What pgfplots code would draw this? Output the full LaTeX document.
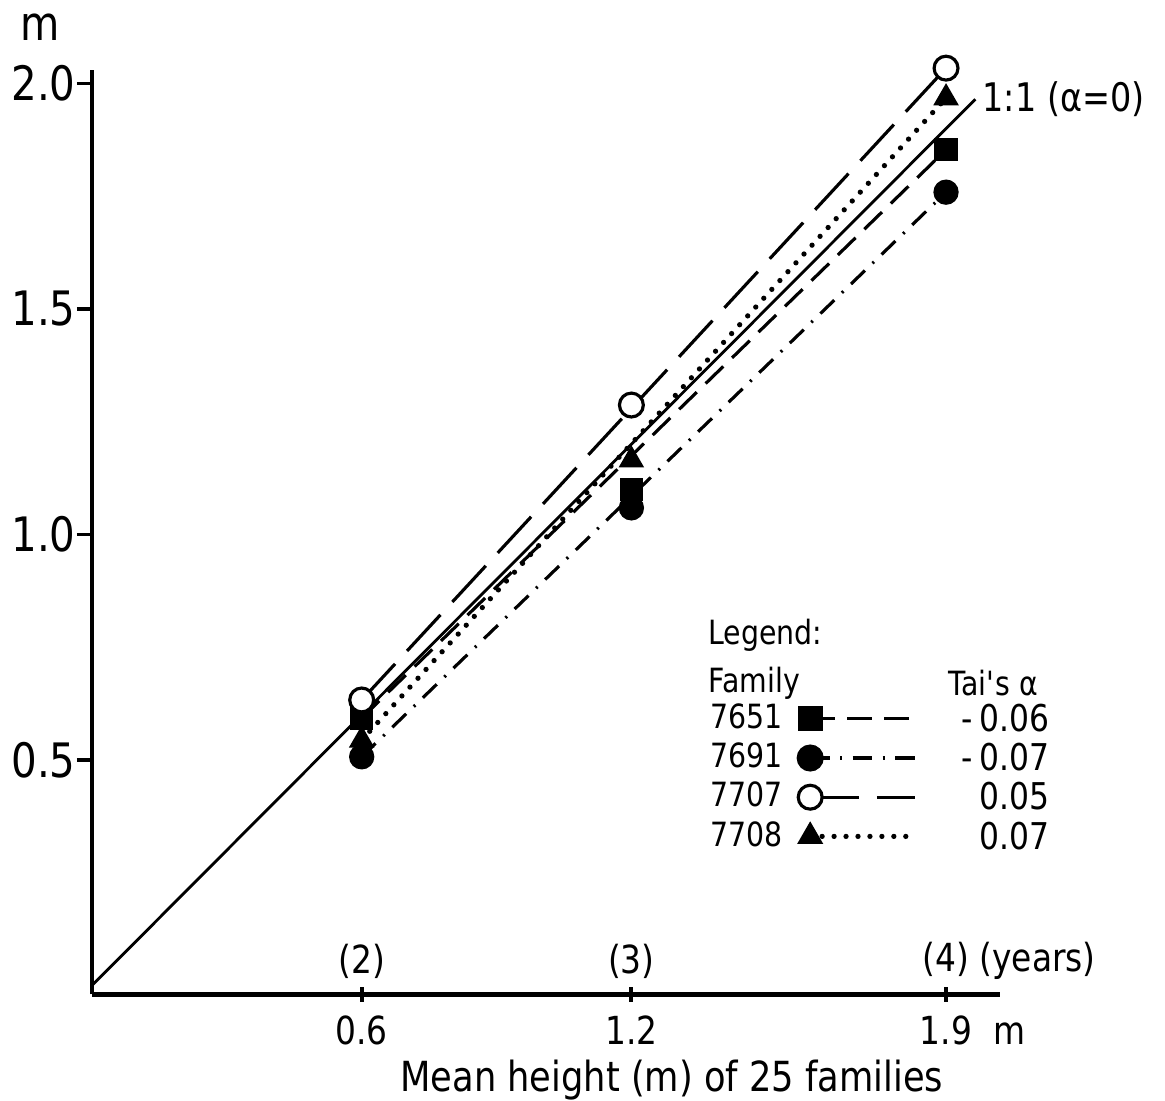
\documentclass[border=0pt]{standalone}
\usepackage{fontspec}
\setmainfont{DejaVu Sans}[FakeStretch=0.85]
\usepackage{pgfplots}
\pgfplotsset{compat=1.18}

\begin{document}
\begin{tikzpicture}
\useasboundingbox (-0.92,-1.155) rectangle (10.73,9.855);
\begin{axis}[
  at={(0,0)}, anchor=origin,
  x=4.495cm, y=4.51cm,
  xmin=0, xmax=2.02, ymin=-0.02, ymax=2.03,
  axis x line=bottom, axis y line=left,
  axis line style={-, line width=1.4pt},
  xtick={0.6,1.2,1.9}, xticklabels={0.6,1.2,{1.9\rlap{\hspace{0.55em}m}}},
  ytick={0.5,1,1.5,2}, yticklabels={0.5,1.0,1.5,2.0},
  tick align=center, ytick align=outside,
  major tick length=0.15cm,
  tick style={black, line width=1.1pt},
  x tick label style={font=\fontsize{11}{13}\selectfont, yshift=-0.01cm},
  y tick label style={font=\fontsize{13.5}{15}\selectfont, xshift=0.11cm},
  clip=false,
  legend plot pos=right,
  legend cell align=left,
  legend image code/.code={\draw[#1, mark repeat=2, mark phase=1] plot coordinates {(0cm,0cm) (1.05cm,0cm)};},
  legend style={at={(axis cs:1.37,0.630)}, anchor=north west, draw=none, fill=none,
    inner sep=0pt, row sep=1.6pt, font=\fontsize{9.5}{11}\selectfont,
    nodes={inner sep=0.5pt},
    /tikz/every odd column/.style={column sep=0.14cm}},
]
% 1:1 line
\addplot[black, line width=0.8pt, forget plot] coordinates {(0,0) (1.965,1.965)};
% 7651 squares, dashed
\addplot[black, line width=0.9pt, dash pattern=on 7pt off 3.5pt, forget plot] coordinates {(0.6,0.593) (1.9,1.853)};
\addplot[only marks, mark=square*, mark size=3.1pt, forget plot] coordinates {(0.6,0.593) (1.2,1.099) (1.9,1.853)};
% 7691 filled circles, dash-dot
\addplot[black, line width=0.9pt, dash pattern=on 5.5pt off 3pt on 0.6pt off 3pt, forget plot] coordinates {(0.6,0.507) (1.9,1.759)};
\addplot[only marks, mark=*, mark size=3.4pt, forget plot] coordinates {(0.6,0.507) (1.2,1.059) (1.9,1.759)};
% 7707 open circles, long dashed
\addplot[black, line width=0.9pt, dash pattern=on 14pt off 5pt, forget plot] coordinates {(0.6,0.633) (1.9,2.034)};
\addplot[only marks, mark=*, mark size=3.4pt, mark options={fill=white, line width=0.9pt}, forget plot] coordinates {(0.6,0.633) (1.2,1.287) (1.9,2.034)};
% 7708 triangles, dotted
\addplot[black, line width=1.5pt, line cap=round, dash pattern=on 0pt off 3.4pt, forget plot] coordinates {(0.6,0.544) (1.9,1.968)};
\addplot[only marks, mark=triangle*, mark size=3.8pt, forget plot] coordinates {(0.6,0.544) (1.2,1.165) (1.9,1.968)};

\addlegendimage{black, line width=0.9pt, dash pattern=on 7pt off 3.5pt, mark=square*, mark size=3.1pt, mark options={solid}}
\addlegendentry{7651}
\addlegendimage{black, line width=0.9pt, dash pattern=on 5.5pt off 3pt on 0.6pt off 3pt, mark=*, mark size=3.4pt, mark options={solid}}
\addlegendentry{7691}
\addlegendimage{black, line width=0.9pt, dash pattern=on 14pt off 5pt, mark=*, mark size=3.4pt, mark options={solid, fill=white}}
\addlegendentry{7707}
\addlegendimage{black, line width=1.5pt, line cap=round, dash pattern=on 0pt off 3.4pt, mark=triangle*, mark size=3.8pt, mark options={solid, line width=0.5pt}}
\addlegendentry{7708}

% texts
\node[anchor=west, inner sep=0pt, font=\fontsize{11.2}{13}\selectfont] at (axis cs:1.98,1.965) {1:1 (α=0)};
\node[font=\fontsize{13.5}{15}\selectfont] at (axis cs:-0.116,2.125) {m};
\node[anchor=south, yshift=-0.06cm, font=\fontsize{11}{13}\selectfont] at (axis cs:0.6,0.0) {(2)};
\node[anchor=south, yshift=-0.06cm, font=\fontsize{11}{13}\selectfont] at (axis cs:1.2,0.0) {(3)};
\node[anchor=south, yshift=-0.06cm, font=\fontsize{11}{13}\selectfont] at (axis cs:1.9,0.0) {(4)\rlap{ (years)}};
\node[font=\fontsize{11.8}{13}\selectfont] at (axis cs:1.29,-0.21) {Mean height (m) of 25 families};
\node[anchor=west, inner sep=0pt, font=\fontsize{9.5}{11}\selectfont] at (axis cs:1.37,0.777) {Legend:};
\node[anchor=west, inner sep=0pt, font=\fontsize{9.5}{11}\selectfont] at (axis cs:1.37,0.671) {Family};
\node[anchor=west, inner sep=0pt, font=\fontsize{9.5}{11}\selectfont] at (axis cs:1.904,0.671) {Tai\textquotesingle s α};
\node[anchor=east, inner sep=0pt, font=\fontsize{10.5}{12}\selectfont] at (axis cs:2.131,0.593) {-\,0.06};
\node[anchor=east, inner sep=0pt, font=\fontsize{10.5}{12}\selectfont] at (axis cs:2.131,0.507) {-\,0.07};
\node[anchor=east, inner sep=0pt, font=\fontsize{10.5}{12}\selectfont] at (axis cs:2.131,0.420) {0.05};
\node[anchor=east, inner sep=0pt, font=\fontsize{10.5}{12}\selectfont] at (axis cs:2.131,0.332) {0.07};
\end{axis}
\end{tikzpicture}
\end{document}
